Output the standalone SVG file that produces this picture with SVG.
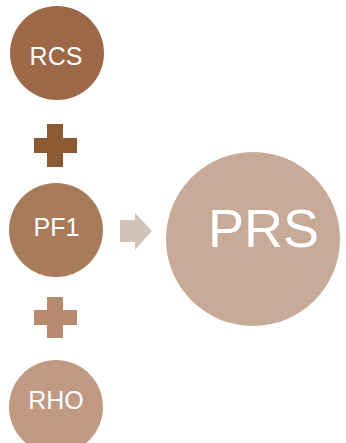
<svg xmlns="http://www.w3.org/2000/svg" width="346" height="443" viewBox="0 0 346 443">
<style>
.lbl{font-family:"Liberation Sans",Arial,sans-serif;fill:#ffffff;text-anchor:middle}
.s{font-size:25px}
.b{font-size:54px}
</style>
<rect width="346" height="443" fill="#ffffff"/>
<g id="connectors">
<g id="plus1" fill="#8B5A33"><rect x="47" y="124" width="16" height="43"/><rect x="34" y="138" width="43" height="15"/></g>
<g id="plus2" fill="#B98B6E"><rect x="47" y="297" width="16" height="41"/><rect x="34" y="310" width="43" height="15"/></g>
<path id="arrow" d="M120,220 H135 V213 L152,231 L135,250 V242 H120 Z" fill="#D3C4BB"/>
</g>
<g id="rcs"><circle cx="57" cy="53" r="47" fill="#9D6846"/><text class="lbl s" x="56" y="65">RCS</text></g>
<g id="pf1"><circle cx="56" cy="230" r="47" fill="#A87B5B"/><text class="lbl s" x="56.5" y="236">PF1</text></g>
<g id="rho"><circle cx="56" cy="407" r="47" fill="#C09A82"/><text class="lbl s" x="56" y="409">RHO</text></g>
<g id="prs"><circle cx="253" cy="239" r="87" fill="#C8AA98"/><text class="lbl b" x="263.5" y="247">PRS</text></g>
</svg>
